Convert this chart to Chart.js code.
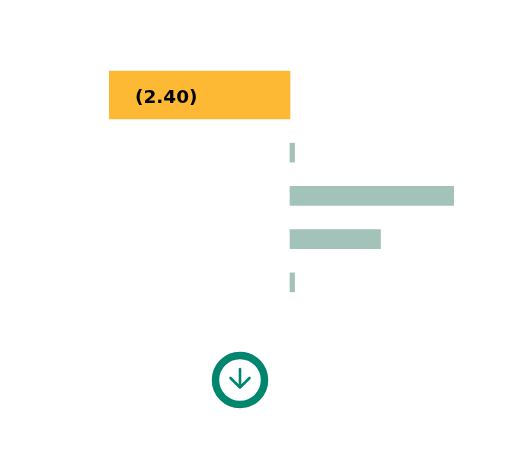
<!DOCTYPE html>
<html>
<head>
<meta charset="utf-8">
<script src="https://cdn.jsdelivr.net/npm/chart.js@4.4.1/dist/chart.umd.min.js"></script>
<style>
  html, body { margin: 0; padding: 0; background: #fff; }
  body { width: 527px; height: 465px; position: relative; overflow: hidden; }
  #totalChart { position: absolute; left: 0; top: 47px; }
  #partsChart { position: absolute; left: 0; top: 131px; }
  #icon { position: absolute; left: 210px; top: 350px; }
</style>
</head>
<body>
<canvas id="totalChart" width="527" height="96"></canvas>
<canvas id="partsChart" width="527" height="173"></canvas>
<svg id="icon" width="60" height="60" viewBox="0 0 60 60">
  <circle cx="30" cy="30" r="24.5" fill="none" stroke="#00856f" stroke-width="7.5"/>
  <path d="M30 19 V37 M20.5 28 L30 37.5 L39.5 28" fill="none" stroke="#00856f" stroke-width="2.6" stroke-linecap="round" stroke-linejoin="round"/>
</svg>
<script>
const totalLabels = ['Total'];
const totalValues = [-2.40];
const partLabels = ['A', 'B', 'C', 'D'];
const partValues = [0.06, 2.17, 1.20, 0.06];
const xMin = -2.4;
const xMax = 2.4;

const hiddenScales = {
    x: { type: 'linear', min: xMin, max: xMax, display: false },
    y: { type: 'category', display: false }
};

const valueLabel = {
    id: 'valueLabel',
    afterDatasetsDraw(chart) {
        const ctx = chart.ctx;
        const meta = chart.getDatasetMeta(0);
        meta.data.forEach((bar, i) => {
            const v = chart.data.datasets[0].data[i];
            const txt = v < 0 ? '(' + Math.abs(v).toFixed(2) + ')' : v.toFixed(2);
            ctx.save();
            ctx.font = 'bold 18.5px "DejaVu Sans", sans-serif';
            ctx.fillStyle = '#000';
            ctx.textAlign = 'left';
            ctx.textBaseline = 'middle';
            ctx.fillText(txt, Math.min(bar.x, bar.base) + 26, bar.y + 3);
            ctx.restore();
        });
    }
};

new Chart(document.getElementById('totalChart'), {
    type: 'bar',
    data: {
        labels: totalLabels,
        datasets: [{
            data: totalValues,
            backgroundColor: '#fdb933',
            barThickness: 48,
            borderWidth: 0
        }]
    },
    options: {
        indexAxis: 'y',
        responsive: false,
        animation: false,
        layout: { padding: { left: 109, right: 56, top: 0, bottom: 0 } },
        plugins: { legend: { display: false }, tooltip: { enabled: false } },
        scales: hiddenScales
    },
    plugins: [valueLabel]
});

new Chart(document.getElementById('partsChart'), {
    type: 'bar',
    data: {
        labels: partLabels,
        datasets: [{
            data: partValues,
            backgroundColor: '#a3c2b9',
            barThickness: 19,
            borderWidth: 0
        }]
    },
    options: {
        indexAxis: 'y',
        responsive: false,
        animation: false,
        layout: { padding: { left: 109, right: 56, top: 0, bottom: 0 } },
        plugins: { legend: { display: false }, tooltip: { enabled: false } },
        scales: hiddenScales
    }
});
</script>
</body>
</html>
